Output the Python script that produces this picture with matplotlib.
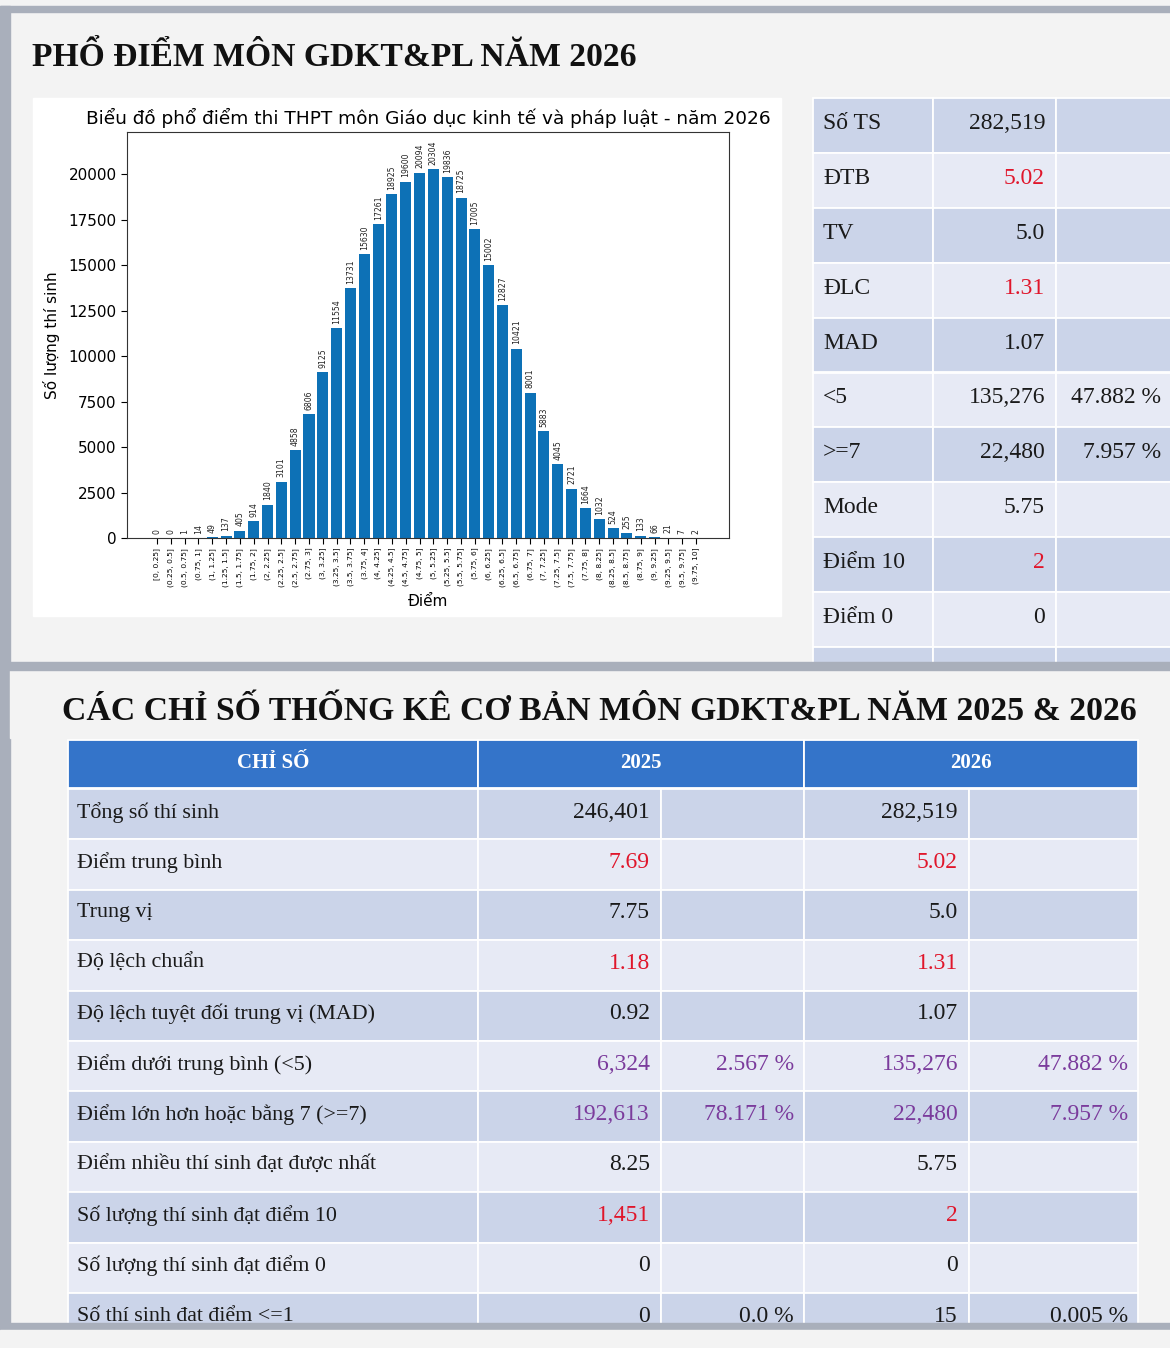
import matplotlib
matplotlib.use("Agg")
import matplotlib.pyplot as plt
from matplotlib.patches import Rectangle

# ---------------- data ----------------
bin_labels = ['[0, 0.25]', '(0.25, 0.5]', '(0.5, 0.75]', '(0.75, 1]', '(1, 1.25]',
              '(1.25, 1.5]', '(1.5, 1.75]', '(1.75, 2]', '(2, 2.25]', '(2.25, 2.5]',
              '(2.5, 2.75]', '(2.75, 3]', '(3, 3.25]', '(3.25, 3.5]', '(3.5, 3.75]',
              '(3.75, 4]', '(4, 4.25]', '(4.25, 4.5]', '(4.5, 4.75]', '(4.75, 5]',
              '(5, 5.25]', '(5.25, 5.5]', '(5.5, 5.75]', '(5.75, 6]', '(6, 6.25]',
              '(6.25, 6.5]', '(6.5, 6.75]', '(6.75, 7]', '(7, 7.25]', '(7.25, 7.5]',
              '(7.5, 7.75]', '(7.75, 8]', '(8, 8.25]', '(8.25, 8.5]', '(8.5, 8.75]',
              '(8.75, 9]', '(9, 9.25]', '(9.25, 9.5]', '(9.5, 9.75]', '(9.75, 10]']
counts = [0, 0, 1, 14, 49, 137, 405, 914, 1840, 3101,
          4858, 6806, 9125, 11554, 13731, 15630, 17261, 18925, 19600, 20094,
          20304, 19836, 18725, 17005, 15002, 12827, 10421, 8001, 5883, 4045,
          2721, 1664, 1032, 524, 255, 133, 66, 21, 7, 2]
y_ticks = [0, 2500, 5000, 7500, 10000, 12500, 15000, 17500, 20000]

side_labels = ['Số TS', 'ĐTB', 'TV', 'ĐLC', 'MAD', '<5', '>=7', 'Mode', 'Điểm 10', 'Điểm 0']
side_values = ['282,519', '5.02', '5.0', '1.31', '1.07', '135,276', '22,480', '5.75', '2', '0']
side_pcts = ['', '', '', '', '', '47.882 %', '7.957 %', '', '', '']
side_tone = ['k', 'r', 'k', 'r', 'k', 'k', 'k', 'k', 'r', 'k']

header = ['CHỈ SỐ', '2025', '2026']
stat_labels = ['Tổng số thí sinh', 'Điểm trung bình', 'Trung vị', 'Độ lệch chuẩn',
               'Độ lệch tuyệt đối trung vị (MAD)', 'Điểm dưới trung bình (<5)',
               'Điểm lớn hơn hoặc bằng 7 (>=7)', 'Điểm nhiều thí sinh đạt được nhất',
               'Số lượng thí sinh đạt điểm 10', 'Số lượng thí sinh đạt điểm 0',
               'Số thí sinh đat điểm <=1']
v2025 = ['246,401', '7.69', '7.75', '1.18', '0.92', '6,324', '192,613', '8.25', '1,451', '0', '0']
p2025 = ['', '', '', '', '', '2.567 %', '78.171 %', '', '', '', '0.0 %']
v2026 = ['282,519', '5.02', '5.0', '1.31', '1.07', '135,276', '22,480', '5.75', '2', '0', '15']
p2026 = ['', '', '', '', '', '47.882 %', '7.957 %', '', '', '', '0.005 %']
stat_tone = ['k', 'r', 'k', 'r', 'k', 'p', 'p', 'k', 'r', 'k', 'k']

# ---------------- style ----------------
BG = '#f3f3f3'
BAND = '#a9afbb'
DARK = '#cbd4e9'
LIGHT = '#e7eaf5'
HEAD = '#3474c9'
TONES = {'k': '#1a1a1a', 'r': '#e0162b', 'p': '#7b3b9c'}
SERIF = ['Liberation Serif', 'DejaVu Serif']
BAR = '#0d71b6'

W, H = 1170, 1348
fig = plt.figure(figsize=(W / 100, H / 100), dpi=100, facecolor=BG)
bg = fig.add_axes([0, 0, 1, 1])
bg.set_xlim(0, W)
bg.set_ylim(H, 0)
bg.axis('off')
renderer = fig.canvas.get_renderer()


def fit_text(ax, x, y, s, width, size, **kw):
    t = ax.text(x, y, s, fontsize=size, **kw)
    ext = t.get_window_extent(renderer)
    t.set_fontsize(size * width / ext.width)
    return t


# frame bands
bg.add_patch(Rectangle((0, 6), W, 6, color=BAND, zorder=1))
bg.add_patch(Rectangle((0, 6), 10, 1324, color=BAND, zorder=1))

# title 1
fit_text(bg, 32, 58, 'PHỔ ĐIỂM MÔN GDKT&PL NĂM 2026', 605, 24,
         family=SERIF, weight='bold', va='center', ha='left', color='#111111')

# chart white box
bg.add_patch(Rectangle((33, 98), 748, 518, color='white', zorder=1))

# ---------------- side table ----------------
s_top, s_h = 98, 54.9
s_cols = [813, 933, 1056, 1200]
for i in range(len(side_labels) + 1):
    col = DARK if i % 2 == 0 else LIGHT
    y0 = s_top + i * s_h
    for c in range(3):
        bg.add_patch(Rectangle((s_cols[c], y0), s_cols[c + 1] - s_cols[c], s_h,
                               facecolor=col, edgecolor='white', lw=1.3, zorder=2))
    if i < len(side_labels):
        yc = y0 + s_h / 2 - 2
        bg.text(823, yc, side_labels[i], family=SERIF, fontsize=17, va='center',
                ha='left', color=TONES['k'], zorder=3)
        bg.text(1045, yc, side_values[i], family=SERIF, fontsize=17, va='center',
                ha='right', color=TONES[side_tone[i]], zorder=3)
        if side_pcts[i]:
            bg.text(1161, yc, side_pcts[i], family=SERIF, fontsize=17, va='center',
                    ha='right', color=TONES['k'], zorder=3)

# separator band
bg.add_patch(Rectangle((0, 662), W, 8, color=BAND, zorder=5))
bg.add_patch(Rectangle((10, 670), W, 68, color=BG, zorder=4))

# title 2
fit_text(bg, 62, 711, 'CÁC CHỈ SỐ THỐNG KÊ CƠ BẢN MÔN GDKT&PL NĂM 2025 & 2026', 1076, 24,
         family=SERIF, weight='bold', va='center', ha='left', color='#111111', zorder=6)

# ---------------- bottom table ----------------
h_top, h_h = 740, 48
hdr_cols = [68, 478, 804, 1138]
for c in range(3):
    bg.add_patch(Rectangle((hdr_cols[c], h_top), hdr_cols[c + 1] - hdr_cols[c], h_h,
                           facecolor=HEAD, edgecolor='white', lw=1.3, zorder=6))
    bg.text((hdr_cols[c] + hdr_cols[c + 1]) / 2, h_top + h_h / 2 - 1, header[c], family=SERIF,
            fontsize=15, weight='bold', color='white', ha='center', va='center', zorder=7)

b_top, b_h = 789, 50.4
b_cols = [68, 478, 661, 804, 969, 1138]
for i in range(len(stat_labels)):
    col = DARK if i % 2 == 0 else LIGHT
    y0 = b_top + i * b_h
    for c in range(5):
        bg.add_patch(Rectangle((b_cols[c], y0), b_cols[c + 1] - b_cols[c], b_h,
                               facecolor=col, edgecolor='white', lw=1.3, zorder=2))
    yc = y0 + b_h / 2 - 2
    tone = TONES[stat_tone[i]]
    bg.text(77, yc, stat_labels[i], family=SERIF, fontsize=15.8, va='center', ha='left',
            color=TONES['k'], zorder=3)
    cells = [v2025[i], p2025[i], v2026[i], p2026[i]]
    rights = [650, 794, 958, 1128]
    for s, xr in zip(cells, rights):
        if s:
            bg.text(xr, yc, s, family=SERIF, fontsize=17, va='center', ha='right',
                    color=tone, zorder=3)

# bottom band
bg.add_patch(Rectangle((0, 1323), W, 7, color=BAND, zorder=8))
bg.add_patch(Rectangle((0, 1330), W, 18, color=BG, zorder=8))

# ---------------- chart ----------------
ax = fig.add_axes([127 / W, 1 - 538 / H, 602 / W, 406 / H])
ax.set_facecolor('white')
xs = list(range(len(counts)))
bars = ax.bar(xs, counts, width=0.8, color=BAR)
ax.bar_label(bars, labels=[str(c) for c in counts], rotation=90, fontsize=5.6, padding=3,
             color='#222222')
ax.set_xlim(-2.17, 41.39)
ax.set_ylim(0, 22330)
ax.set_yticks(y_ticks)
ax.tick_params(axis='y', labelsize=11, length=4)
ax.set_xticks(xs)
ax.set_xticklabels(bin_labels, rotation=90, fontsize=5.4)
ax.tick_params(axis='x', length=4, pad=3)
ax.set_ylabel('Số lượng thí sinh', fontsize=11, labelpad=6)
ax.set_xlabel('Điểm', fontsize=11, labelpad=5)
ax.set_title('Biểu đồ phổ điểm thi THPT môn Giáo dục kinh tế và pháp luật - năm 2026',
             fontsize=13.3, pad=6)
for sp in ax.spines.values():
    sp.set_color('#333333')

fig.savefig('out.png', dpi=100, facecolor=BG)
